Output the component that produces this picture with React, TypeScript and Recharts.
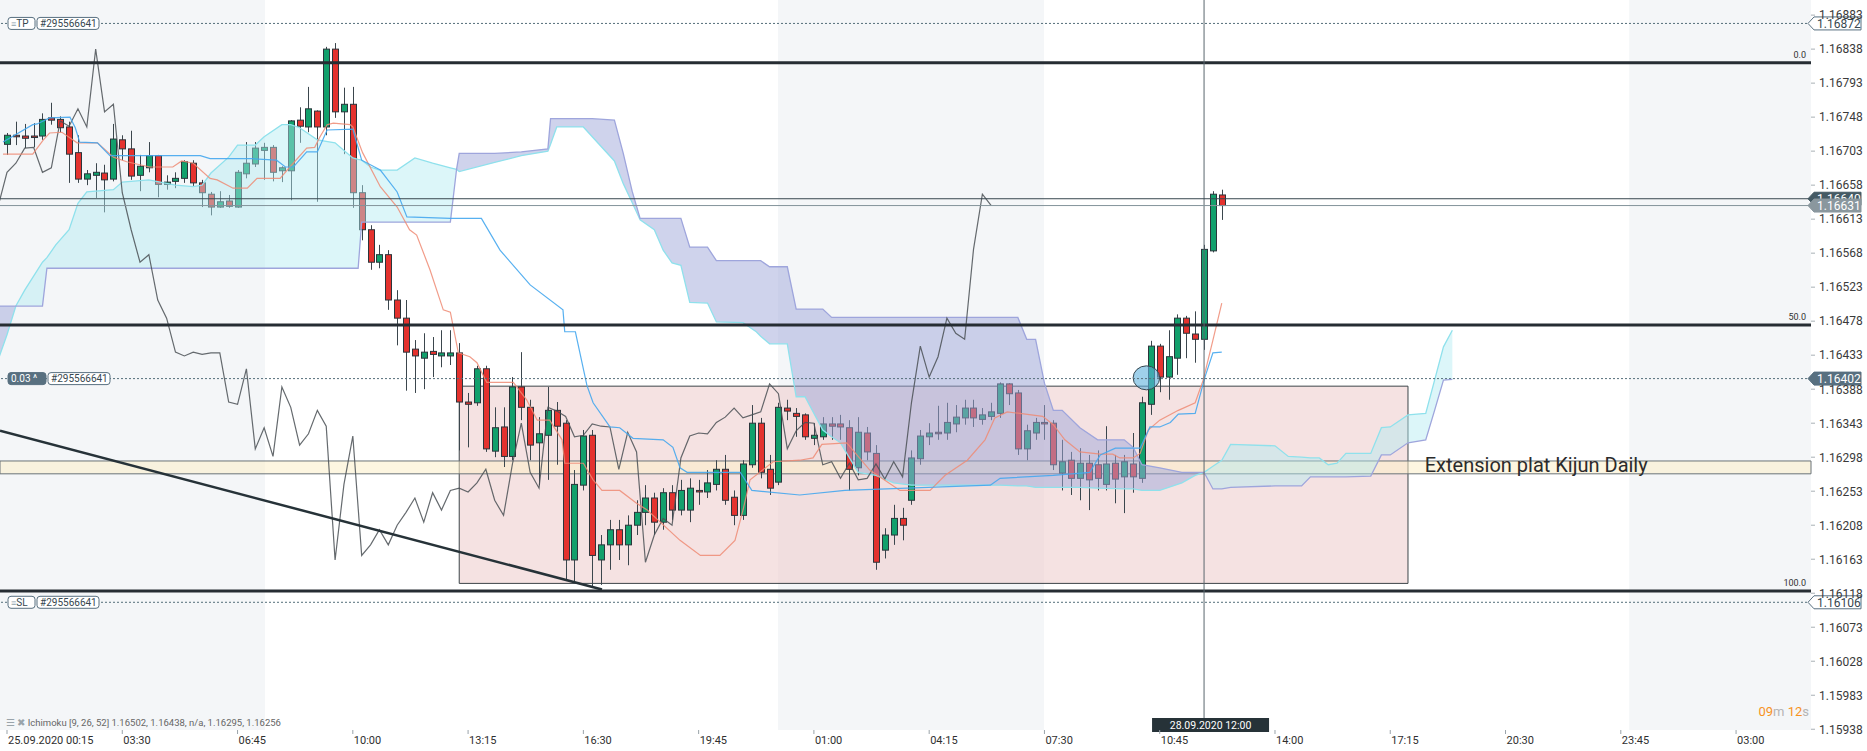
import React from 'react';
import { ComposedChart, Bar, Line, Area, XAxis, YAxis, ReferenceLine, ReferenceArea, ReferenceDot } from 'recharts';

const CHART_W = 1867;
const CHART_H = 751;
const PLOT_W = 1811;
const PLOT_H = 730;
const X_MIN = -0.79;
const X_MAX = 203.45;
const Y_MIN = 1.15937;
const Y_MAX = 1.16903;

// EURUSD M15 candles, bar 0 = 25.09.2020 00:15
const opens = [
  1.16712, 1.16724, 1.16723, 1.16723, 1.16723, 1.16747, 1.16745, 1.16735, 1.16701, 1.16666,
  1.16671, 1.16674, 1.16666, 1.16718, 1.16706, 1.16671, 1.16681, 1.16697, 1.16659, 1.16663,
  1.16667, 1.16687, 1.16661, 1.16646, 1.16629, 1.16637, 1.16629, 1.16673, 1.16686, 1.16704,
  1.16708, 1.16677, 1.16677, 1.16744, 1.16735, 1.16756, 1.16735, 1.16838, 1.16755, 1.16765,
  1.16648, 1.16599, 1.16556, 1.16566, 1.16506, 1.16482, 1.16441, 1.16429, 1.16438, 1.16432,
  1.16432, 1.16436, 1.16371, 1.1637, 1.16415, 1.16306, 1.16338, 1.16299, 1.16391, 1.16364,
  1.16317, 1.16327, 1.1636, 1.16343, 1.16162, 1.16261, 1.16327, 1.16162, 1.16182, 1.16202,
  1.16182, 1.16208, 1.16225, 1.16244, 1.16212, 1.16251, 1.16228, 1.16228, 1.16254, 1.16252,
  1.16262, 1.16282, 1.16245, 1.16221, 1.16288, 1.16343, 1.16282, 1.16265, 1.16363, 1.16356,
  1.16354, 1.16323, 1.16325, 1.16342, 1.16342, 1.16337, 1.16284, 1.1633, 1.16303, 1.16175,
  1.16195, 1.16217, 1.16241, 1.16296, 1.16325, 1.16331, 1.1633, 1.16342, 1.1635, 1.16363,
  1.16348, 1.16352, 1.16356, 1.16395, 1.16383, 1.16309, 1.1633, 1.16344, 1.16343, 1.16277,
  1.16294, 1.1627, 1.1629, 1.16288, 1.16262, 1.1629, 1.16272, 1.16289, 1.1627, 1.16368,
  1.16445, 1.16404, 1.16429, 1.16482, 1.16461, 1.16454, 1.16571, 1.16645,
];
const highs = [
  1.16727, 1.16742, 1.16739, 1.1674, 1.16753, 1.16767, 1.16749, 1.16742, 1.16724, 1.16678,
  1.16687, 1.16685, 1.16739, 1.16724, 1.1673, 1.16698, 1.16715, 1.16698, 1.16671, 1.16675,
  1.16691, 1.16691, 1.16665, 1.16649, 1.1665, 1.16645, 1.16678, 1.16715, 1.16715, 1.16714,
  1.16711, 1.16683, 1.16744, 1.16761, 1.16788, 1.16757, 1.16841, 1.16846, 1.16787, 1.16788,
  1.16658, 1.16605, 1.16579, 1.16572, 1.16519, 1.16506, 1.16453, 1.16462, 1.16457, 1.16466,
  1.16466, 1.16449, 1.16383, 1.16419, 1.16419, 1.16364, 1.16364, 1.16404, 1.16437, 1.16374,
  1.16351, 1.16391, 1.16371, 1.16347, 1.16281, 1.16334, 1.16334, 1.16195, 1.16215, 1.16215,
  1.16221, 1.16241, 1.16261, 1.16251, 1.16257, 1.16261, 1.16268, 1.1627, 1.16268, 1.16281,
  1.16294, 1.16301, 1.16254, 1.16294, 1.16367, 1.1635, 1.16301, 1.1637, 1.16374, 1.16363,
  1.16356, 1.16343, 1.16351, 1.16351, 1.16354, 1.16347, 1.16351, 1.16338, 1.16314, 1.16204,
  1.16235, 1.16231, 1.16307, 1.16334, 1.16343, 1.16366, 1.1637, 1.16367, 1.16374, 1.16374,
  1.16363, 1.1637, 1.16397, 1.16396, 1.16387, 1.16341, 1.1635, 1.16367, 1.16347, 1.16321,
  1.16305, 1.1631, 1.16301, 1.16307, 1.16339, 1.16301, 1.16301, 1.1633, 1.16378, 1.16452,
  1.16448, 1.16466, 1.16487, 1.16485, 1.16491, 1.16579, 1.1665, 1.16652,
];
const lows = [
  1.16698, 1.16711, 1.16707, 1.16708, 1.16718, 1.16738, 1.16728, 1.16661, 1.16661, 1.16658,
  1.16641, 1.16622, 1.16663, 1.16691, 1.16665, 1.1665, 1.16675, 1.16642, 1.16652, 1.16654,
  1.16661, 1.16657, 1.16629, 1.16618, 1.16628, 1.16628, 1.16628, 1.16667, 1.16682, 1.16665,
  1.16663, 1.16662, 1.16638, 1.16714, 1.16728, 1.16636, 1.16724, 1.16747, 1.16699, 1.16628,
  1.16585, 1.16546, 1.16548, 1.16493, 1.16446, 1.16386, 1.16383, 1.16388, 1.16404, 1.16417,
  1.1642, 1.16307, 1.16311, 1.16366, 1.16305, 1.16298, 1.16285, 1.16294, 1.16347, 1.16294,
  1.16261, 1.16268, 1.16288, 1.16135, 1.16133, 1.16254, 1.16127, 1.16129, 1.16149, 1.16162,
  1.16155, 1.16195, 1.16208, 1.16195, 1.16202, 1.16215, 1.16221, 1.16212, 1.16235, 1.16244,
  1.16254, 1.16235, 1.16208, 1.16215, 1.16284, 1.1627, 1.16248, 1.16261, 1.16347, 1.16325,
  1.16321, 1.16314, 1.16321, 1.16321, 1.16321, 1.16254, 1.16274, 1.16294, 1.16149, 1.16164,
  1.16182, 1.16188, 1.16235, 1.16288, 1.16314, 1.16321, 1.16321, 1.16331, 1.16341, 1.16338,
  1.16341, 1.16347, 1.1635, 1.16367, 1.16301, 1.16294, 1.16321, 1.16321, 1.16281, 1.16254,
  1.16248, 1.16241, 1.16228, 1.16254, 1.16254, 1.16237, 1.16224, 1.16251, 1.16264, 1.16354,
  1.16384, 1.16374, 1.16407, 1.16429, 1.16423, 1.1644, 1.16569, 1.16612,
];
const closes = [
  1.16724, 1.16722, 1.1672, 1.16722, 1.16745, 1.16744, 1.16734, 1.16699, 1.16666, 1.16673,
  1.16675, 1.16665, 1.16719, 1.16706, 1.1667, 1.16683, 1.16697, 1.16659, 1.16662, 1.16667,
  1.16689, 1.16661, 1.16648, 1.16629, 1.16636, 1.1663, 1.16675, 1.16687, 1.16707, 1.16708,
  1.16675, 1.16681, 1.16743, 1.16736, 1.16759, 1.16735, 1.16838, 1.16755, 1.16765, 1.16648,
  1.16599, 1.16556, 1.16566, 1.16506, 1.16482, 1.16437, 1.16432, 1.16437, 1.16434, 1.16436,
  1.16436, 1.16371, 1.16368, 1.16415, 1.16309, 1.16337, 1.16299, 1.16391, 1.16364, 1.16314,
  1.16329, 1.1636, 1.16339, 1.16162, 1.16262, 1.16326, 1.16168, 1.16182, 1.16202, 1.16182,
  1.16208, 1.16225, 1.16244, 1.16212, 1.16251, 1.16228, 1.16254, 1.16257, 1.16252, 1.16264,
  1.16282, 1.16241, 1.16221, 1.16289, 1.16343, 1.16278, 1.16257, 1.16364, 1.16359, 1.16352,
  1.16325, 1.16327, 1.16342, 1.16339, 1.16338, 1.16282, 1.16331, 1.16305, 1.16159, 1.16195,
  1.16217, 1.16208, 1.16297, 1.16326, 1.1633, 1.16329, 1.16344, 1.16351, 1.16363, 1.1635,
  1.16354, 1.16358, 1.16395, 1.16382, 1.16309, 1.16333, 1.16344, 1.16343, 1.16288, 1.16292,
  1.1627, 1.1629, 1.16268, 1.1627, 1.16289, 1.16269, 1.16292, 1.16272, 1.1637, 1.16445,
  1.16404, 1.16431, 1.16482, 1.16462, 1.16454, 1.16573, 1.16646, 1.16631,
];

const timeTicks = [0, 13, 26, 39, 52, 65, 78, 91, 104, 117, 130, 143, 156, 169, 182, 195];
const timeLabels = [
  '25.09.2020 00:15', '03:30', '06:45', '10:00', '13:15', '16:30', '19:45', '01:00',
  '04:15', '07:30', '10:45', '14:00', '17:15', '20:30', '23:45', '03:00',
];
const priceTicks = [
  1.15938, 1.15983, 1.16028, 1.16073, 1.16118, 1.16163, 1.16208, 1.16253, 1.16298, 1.16343, 1.16388,
  1.16433, 1.16478, 1.16523, 1.16568, 1.16613, 1.16658, 1.16703, 1.16748, 1.16793, 1.16838, 1.16883,
];

// ichimoku lines, [bar, price] at the corners
const tenkan: [number, number][] = [
  [-0.45, 1.16699], [2.9, 1.16699], [4.1, 1.16718], [4.8, 1.16727], [6.2, 1.16728], [7.9, 1.16714],
  [10.2, 1.16714], [12, 1.16695], [13.5, 1.16689], [16.1, 1.16682], [18.7, 1.16682], [19.7, 1.1669],
  [21, 1.16687], [22.9, 1.16667], [23.7, 1.16665], [25.5, 1.16654], [27.1, 1.16654], [28.2, 1.16667],
  [30.8, 1.16667], [31.9, 1.16682], [33.8, 1.16707], [34.7, 1.16708], [35.3, 1.16722], [36.1, 1.16738],
  [36.8, 1.1674], [38.7, 1.16738], [39, 1.16735], [40.1, 1.16701], [42.1, 1.16656], [44, 1.16629],
  [45.4, 1.16599], [46.2, 1.16592], [47.7, 1.16546], [49.2, 1.16493], [50, 1.1649], [50.9, 1.16436],
  [52.2, 1.16431], [53, 1.16423], [54.1, 1.16397], [57.1, 1.16397], [58.6, 1.16374], [59.8, 1.16347],
  [61.2, 1.16347], [62.6, 1.16321], [62.9, 1.1629], [65, 1.1629], [66.1, 1.16268], [67.1, 1.16254],
  [69.1, 1.16254], [71, 1.16237], [72.2, 1.16228], [75.9, 1.16188], [78.2, 1.16168], [80.4, 1.16168],
  [82.1, 1.16188], [83, 1.16228], [83.8, 1.16268], [86.4, 1.16292], [89.4, 1.16294], [90.9, 1.16297],
  [91.9, 1.16315], [94.7, 1.16317], [97.3, 1.16281], [100.7, 1.16254], [104.1, 1.16254], [105.8, 1.16274],
  [108.3, 1.16294], [110.3, 1.16321], [111.4, 1.1635], [112.8, 1.16358], [116.8, 1.16352], [118, 1.16341],
  [119.3, 1.16321], [121, 1.16305], [123.3, 1.16302], [124.7, 1.16302], [125.5, 1.16297], [127, 1.16297],
  [127.8, 1.16303], [128.7, 1.16334], [130, 1.16347], [132.1, 1.1636], [134, 1.1637], [134.9, 1.164],
  [136, 1.16453], [137, 1.16502],
];
const kijun: [number, number][] = [
  [-0.45, 1.16715], [2.9, 1.16738], [3.4, 1.16739], [4.8, 1.16747], [7.1, 1.16748], [7.7, 1.16734],
  [8.2, 1.16715], [10.2, 1.16714], [11.6, 1.16697], [21.8, 1.16697], [22.9, 1.16693], [27.7, 1.16693],
  [30.4, 1.16691], [31.4, 1.16682], [32.3, 1.16682], [33.8, 1.16702], [35, 1.16702], [36.1, 1.16731],
  [39, 1.16732], [40, 1.16691], [42.1, 1.16678], [44, 1.16649], [45.1, 1.16616], [50, 1.16614],
  [53.5, 1.16614], [55.6, 1.16572], [59, 1.16526], [62.7, 1.16493], [62.9, 1.16464], [64.1, 1.16464],
  [65.4, 1.16393], [66.1, 1.1637], [68, 1.16338], [69.1, 1.16337], [70.6, 1.16323], [74, 1.16321],
  [75.1, 1.16311], [75.9, 1.16284], [76.7, 1.16278], [82.7, 1.16278], [84, 1.16254], [89.4, 1.16248],
  [94.5, 1.16254], [110.9, 1.16261], [112, 1.1627], [118, 1.16274], [122.1, 1.16278], [123.3, 1.16301],
  [125, 1.1631], [127.8, 1.1631], [128.9, 1.16338], [130, 1.16338], [131.2, 1.16344], [132.1, 1.16355],
  [134, 1.16356], [135.1, 1.16404], [136, 1.16436], [137, 1.16437],
];
// [bar, senkou A, senkou B]
const cloudKnots: [number, number, number][] = [
  [-1, 1.16427, 1.16498], [0, 1.1646, 1.16498], [1, 1.16498, 1.16498], [2, 1.16519, 1.16498],
  [4, 1.16556, 1.16498], [4.5, 1.16562, 1.16548], [5.5, 1.16579, 1.16548], [7, 1.16599, 1.16548],
  [8, 1.16634, 1.16548], [9, 1.16649, 1.16548], [12, 1.16652, 1.16548], [13, 1.16662, 1.16548],
  [16, 1.16665, 1.16548], [19, 1.16658, 1.16548], [21, 1.16656, 1.16548], [22, 1.16658, 1.16548],
  [23, 1.16674, 1.16548], [25, 1.16695, 1.16548], [26, 1.16711, 1.16548], [28, 1.16711, 1.16548],
  [29, 1.16722, 1.16548], [31, 1.16738, 1.16548], [32, 1.16738, 1.16548], [33, 1.16734, 1.16548],
  [35, 1.16718, 1.16548], [37, 1.16714, 1.16548], [38, 1.16704, 1.16548], [39, 1.16694, 1.16548],
  [39.6, 1.16692, 1.16548], [40, 1.16691, 1.16609], [41, 1.16682, 1.16609], [42, 1.16678, 1.16609],
  [44, 1.16678, 1.16609], [46, 1.16694, 1.16609], [48, 1.16687, 1.16609], [50, 1.16681, 1.16609],
  [50.7, 1.16679, 1.16679], [51, 1.16676, 1.167], [55, 1.16688, 1.167], [58, 1.16697, 1.16702],
  [61, 1.16703, 1.16706], [61.3, 1.16712, 1.16746], [62, 1.16735, 1.16746], [65, 1.16735, 1.16746],
  [66, 1.16722, 1.16746], [68.5, 1.1669, 1.16744], [69.5, 1.1666, 1.167], [70.5, 1.16635, 1.1665],
  [71.4, 1.16612, 1.16614], [73, 1.16599, 1.16614], [74, 1.16572, 1.16614],
  [75, 1.16555, 1.16614], [76, 1.16552, 1.16614], [77, 1.16503, 1.16576], [79, 1.16502, 1.16576],
  [80, 1.16477, 1.16558], [83, 1.16476, 1.16558], [84.5, 1.16464, 1.16558], [85, 1.16458, 1.16558],
  [86, 1.16448, 1.1655], [88, 1.16448, 1.1655], [89, 1.16378, 1.16494], [90, 1.16378, 1.16494],
  [92, 1.16334, 1.16494], [93, 1.16325, 1.16483], [94, 1.16317, 1.16483], [96, 1.16278, 1.16483],
  [98, 1.16274, 1.16483], [100, 1.16264, 1.16483], [102, 1.16261, 1.16483], [112, 1.16261, 1.16483],
  [114, 1.1626, 1.16483], [115, 1.1626, 1.16454], [116, 1.16258, 1.16454], [117, 1.16258, 1.16396],
  [118, 1.16258, 1.1636], [119, 1.16258, 1.1636], [121, 1.16258, 1.16337], [123, 1.16257, 1.16321],
  [126, 1.16256, 1.16321], [127, 1.16256, 1.16311], [128, 1.16254, 1.16288], [130, 1.16254, 1.16284],
  [132.5, 1.16264, 1.16278], [134, 1.16274, 1.16278], [135, 1.16278, 1.16278], [136, 1.16286, 1.16256],
  [137, 1.16294, 1.16256], [138, 1.16315, 1.16258], [143, 1.16313, 1.1626], [144.5, 1.16299, 1.1626],
  [146, 1.16298, 1.1626], [147, 1.16297, 1.16272], [148, 1.16297, 1.16272], [149, 1.16288, 1.16272],
  [150, 1.1629, 1.16272], [151, 1.16303, 1.16272], [153.8, 1.16303, 1.16273], [155, 1.16337, 1.16301],
  [156, 1.16338, 1.16301], [158, 1.16354, 1.16317], [160, 1.16356, 1.16321], [161, 1.164, 1.1636],
  [162, 1.16444, 1.164], [163, 1.16466, 1.16401],
];
const cloudTwists = [-1, 1, 50.7, 135, 163];

const sessions: [number, number][] = [[X_MIN, 29.1], [86.95, 116.95], [182.95, X_MAX]];
const fibPrices = [1.1682, 1.16473, 1.16121];
const fibNames = ['0.0', '50.0', '100.0'];
const zonePrices = [1.16276, 1.16293];
const boxBars = [51, 158];
const boxPrices = [1.16131, 1.16392];
const trendBars = [X_MIN, 67.1];
const trendPrices = [1.16333, 1.16123];
const markerPoint = [128.5, 1.16403];
const crossBar = 135;
const tpPrice = 1.16872;
const askPrice = 1.1664;
const bidPrice = 1.16631;
const orderPrice = 1.16402;
const slPrice = 1.16106;

const candles = opens.map((o, i) => ({ i, o, h: highs[i], l: lows[i], c: closes[i], range: [lows[i], highs[i]] }));
const chikou = closes.map((v, k) => ({ i: k - 26, v })).filter((d) => d.i >= -1);
const tenkanData = tenkan.map(([i, v]) => ({ i, v }));
const kijunData = kijun.map(([i, v]) => ({ i, v }));
const cloud = cloudKnots.map(([i, a, b]) => ({ i, a, b, range: [Math.min(a, b), Math.max(a, b)] }));
const cloudSegments = cloudTwists.slice(0, -1).map((s, k) => {
  const e = cloudTwists[k + 1];
  const pts = cloud.filter((d) => d.i >= s && d.i <= e);
  const mid = pts[Math.floor(pts.length / 2)];
  return { pts, bull: mid.a > mid.b };
});

const FONT = 'Roboto, "Noto Sans", sans-serif';

const Candle = (p: any) => {
  const { x, y, width, height, payload } = p;
  if (!payload) return null;
  const top = Math.min(y, y + height);
  const hgt = Math.abs(height);
  const { o, h, l, c } = payload;
  const py = (v: number) => top + ((h - v) / (h - l)) * hgt;
  const cx = Math.round(x + width / 2) + 0.5;
  const bTop = py(Math.max(o, c));
  const bBot = py(Math.min(o, c));
  const up = c >= o;
  return (
    <g>
      <line x1={cx} x2={cx} y1={top} y2={top + hgt} stroke="#3b464d" strokeWidth={1} />
      <rect x={cx - 3} y={bTop} width={6} height={Math.max(bBot - bTop, 1.5)} fill={up ? '#12a06c' : '#e4322e'} stroke="#2b353b" strokeWidth={1} />
    </g>
  );
};

const TimeTick = (p: any) => {
  const label = timeLabels[timeTicks.indexOf(p.payload.value)];
  return (
    <g>
      <line x1={p.x} x2={p.x} y1={PLOT_H} y2={PLOT_H + 4} stroke="#9aa3a9" />
      <text x={p.x + 1} y={PLOT_H + 14} fontSize={11} fill="#2f2f2f" fontFamily={FONT}>{label}</text>
    </g>
  );
};

const PriceTick = (p: any) => (
  <g>
    <line x1={PLOT_W} x2={PLOT_W + 4} y1={p.y} y2={p.y} stroke="#a8b0b5" />
    <text x={PLOT_W + 8} y={p.y} dy="0.36em" fontSize={12} fill="#3a3a3a" fontFamily={FONT}>
      {Number(p.payload.value).toFixed(5)}
    </text>
  </g>
);

const axisBox = (g: any, y: number, text: string, bg: string, fg: string, stroke: string) => (
  <g>
    <polygon
      points={`${g - 3},${y} ${g + 3},${y - 6.5} ${g + 50},${y - 6.5} ${g + 50},${y + 6.5} ${g + 3},${y + 6.5}`}
      fill={bg}
      stroke={stroke}
      strokeWidth={1}
    />
    <text x={g + 6} y={y} dy="0.36em" fontSize={12} fill={fg} fontFamily={FONT}>{text}</text>
  </g>
);

const tagBox = (x: number, y: number, w: number, text: React.ReactNode, dark: boolean) => (
  <g>
    <rect x={x} y={y - 6} width={w} height={12} rx={3} fill={dark ? '#587080' : '#ffffff'} stroke="#587080" strokeWidth={1} />
    <text x={x + 3} y={y} dy="0.36em" fontSize={10} fill={dark ? '#ffffff' : '#37474f'} fontFamily={FONT}>{text}</text>
  </g>
);

const orderLabel = (kind: string, price: string, dark: boolean) => (p: any) => {
  const { x, y, width } = p.viewBox;
  const right = x + width;
  const first =
    kind === 'ord' ? '0.03 ^' : (
      <>
        <tspan fill="#90a4ae" fontSize={9}>≡</tspan>
        <tspan>{kind}</tspan>
      </>
    );
  const w1 = kind === 'ord' ? 38 : 27;
  return (
    <g>
      {tagBox(x + 8, y, w1, first, kind === 'ord')}
      {tagBox(x + 10 + w1, y, 62, '#295566641', false)}
      {axisBox(right, y, price, dark ? '#587080' : '#ffffff', dark ? '#ffffff' : '#37474f', '#587080')}
    </g>
  );
};

const fibLabel = (name: string) => (p: any) => {
  const { x, y, width } = p.viewBox;
  return (
    <text x={x + width - 5} y={y - 5} textAnchor="end" fontSize={9} fill="#333" fontFamily={FONT}>{name}</text>
  );
};

const crossLabel = (p: any) => {
  const { x } = p.viewBox;
  return (
    <g>
      <rect x={x - 52} y={718} width={117} height={14} fill="#263238" />
      <text x={x + 6.5} y={725} dy="0.36em" textAnchor="middle" fontSize={10.5} fill="#ffffff" fontFamily={FONT}>28.09.2020 12:00</text>
    </g>
  );
};

const zoneText = (p: any) => {
  const { x, y } = p.viewBox;
  return (
    <text x={x} y={y - 1} fontSize={20} fill="#2b2b2b" fontFamily={FONT}>Extension plat Kijun Daily</text>
  );
};

export default function App() {
  return (
    <div style={{ position: 'relative', width: CHART_W, height: CHART_H, background: '#ffffff', fontFamily: FONT }}>
      <style>{'body{margin:0;}'}</style>
      <ComposedChart width={CHART_W} height={CHART_H} data={candles} margin={{ top: 0, right: 0, bottom: 0, left: 0 }}>
        <XAxis
          dataKey="i"
          type="number"
          domain={[X_MIN, X_MAX]}
          allowDataOverflow
          ticks={timeTicks}
          interval={0}
          tick={<TimeTick />}
          tickLine={false}
          axisLine={false}
          height={CHART_H - PLOT_H}
        />
        <YAxis
          orientation="right"
          type="number"
          domain={[Y_MIN, Y_MAX]}
          allowDataOverflow
          ticks={priceTicks}
          interval={0}
          tick={<PriceTick />}
          tickLine={false}
          axisLine={false}
          width={CHART_W - PLOT_W}
        />

        {sessions.map(([a, b], k) => (
          <ReferenceArea key={'s' + k} x1={a} x2={b} fill="#f4f6f8" fillOpacity={1} stroke="none" ifOverflow="visible" zIndex={-300} />
        ))}
        <ReferenceArea x1={boxBars[0]} x2={boxBars[1]} y1={boxPrices[0]} y2={boxPrices[1]} fill="#efcfcf" fillOpacity={0.6} stroke="#3c4448" strokeWidth={1} zIndex={-200} />
        <ReferenceArea x1={X_MIN} x2={X_MAX} y1={zonePrices[0]} y2={zonePrices[1]} fill="#fcefc8" fillOpacity={0.55} stroke="#6b7378" strokeWidth={1} ifOverflow="visible" zIndex={-150} />

        <Bar dataKey="range" barSize={6} shape={Candle} isAnimationActive={false} zIndex={300} />

        {cloudSegments.map((seg, k) => (
          <Area
            key={'c' + k}
            data={seg.pts}
            dataKey="range"
            type="linear"
            stroke="none"
            fill={seg.bull ? '#b2ebf2' : '#9fa8da'}
            fillOpacity={seg.bull ? 0.45 : 0.5}
            isAnimationActive={false}
            dot={false}
            activeDot={false}
            zIndex={350}
          />
        ))}
        <Line data={cloud} dataKey="a" type="linear" stroke="#8fe1ec" strokeWidth={1.3} dot={false} activeDot={false} isAnimationActive={false} zIndex={400} />
        <Line data={cloud} dataKey="b" type="linear" stroke="#9ea5dc" strokeWidth={1.3} dot={false} activeDot={false} isAnimationActive={false} zIndex={400} />
        <Line data={chikou} dataKey="v" type="linear" stroke="#4a5055" strokeOpacity={0.85} strokeWidth={1.2} dot={false} activeDot={false} isAnimationActive={false} zIndex={400} />
        <Line data={tenkanData} dataKey="v" type="linear" stroke="#ee8b74" strokeOpacity={0.85} strokeWidth={1.2} dot={false} activeDot={false} isAnimationActive={false} zIndex={400} />
        <Line data={kijunData} dataKey="v" type="linear" stroke="#45a7ee" strokeOpacity={0.9} strokeWidth={1.2} dot={false} activeDot={false} isAnimationActive={false} zIndex={400} />

        <ReferenceLine
          segment={[{ x: trendBars[0], y: trendPrices[0] }, { x: trendBars[1], y: trendPrices[1] }]}
          stroke="#263238"
          strokeWidth={2.5}
          ifOverflow="visible"
          zIndex={450}
        />
        {fibPrices.map((v, k) => (
          <ReferenceLine key={'f' + k} y={v} stroke="#262d33" strokeWidth={3} label={fibLabel(fibNames[k])} zIndex={450} />
        ))}
        <ReferenceDot x={160} y={zonePrices[0]} r={1} fill="none" stroke="none" label={zoneText} ifOverflow="visible" zIndex={450} />
        <ReferenceDot
          x={markerPoint[0]}
          y={markerPoint[1]}
          r={12}
          shape={(p: any) => <ellipse cx={p.cx} cy={p.cy} rx={13.3} ry={12} fill="#5fb0dc" fillOpacity={0.6} stroke="#37474f" strokeWidth={1} />}
          zIndex={450}
        />
        <ReferenceLine x={crossBar} stroke="#5a666e" strokeWidth={1} label={crossLabel} zIndex={460} />

        <ReferenceLine y={askPrice} stroke="#37474f" strokeWidth={1} label={(p: any) => axisBox(p.viewBox.x + p.viewBox.width, p.viewBox.y, '1.16640', '#455a64', '#ffffff', '#455a64')} zIndex={600} />
        <ReferenceLine y={bidPrice} stroke="#84939b" strokeWidth={1} label={(p: any) => axisBox(p.viewBox.x + p.viewBox.width, p.viewBox.y, '1.16631', '#8a979e', '#ffffff', '#8a979e')} zIndex={610} />
        <ReferenceLine y={tpPrice} stroke="#546e7a" strokeWidth={1} strokeDasharray="2 2" label={orderLabel('TP', '1.16872', false)} zIndex={600} />
        <ReferenceLine y={orderPrice} stroke="#546e7a" strokeWidth={1} strokeDasharray="2 2" label={orderLabel('ord', '1.16402', true)} zIndex={600} />
        <ReferenceLine y={slPrice} stroke="#546e7a" strokeWidth={1} strokeDasharray="2 2" label={orderLabel('SL', '1.16106', false)} zIndex={600} />
      </ComposedChart>

      <div style={{ position: 'absolute', left: 6, top: 716, fontSize: 9.5, lineHeight: '13px', color: '#666', whiteSpace: 'nowrap' }}>
        <span style={{ color: '#9aa4aa' }}>☰ ✖ </span>Ichimoku [9, 26, 52] 1.16502, 1.16438, n/a, 1.16295, 1.16256
      </div>
      <div style={{ position: 'absolute', right: CHART_W - PLOT_W + 2, top: 704, fontSize: 13, lineHeight: '16px', whiteSpace: 'nowrap' }}>
        <span style={{ color: '#f7931e' }}>09</span>
        <span style={{ color: '#b4b4b4' }}>m </span>
        <span style={{ color: '#f7931e' }}>12</span>
        <span style={{ color: '#b4b4b4' }}>s</span>
      </div>
    </div>
  );
}
